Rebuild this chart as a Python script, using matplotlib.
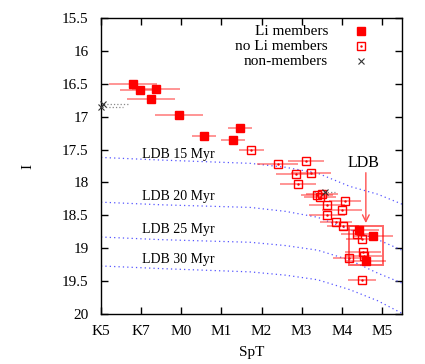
import matplotlib
matplotlib.use("Agg")
import matplotlib.pyplot as plt
from matplotlib.patches import Rectangle

plt.rcParams['font.family'] = ['Liberation Serif', 'DejaVu Serif']
plt.rcParams['font.size'] = 11

# spectral type index: K5=0, K7=1, M0=2, M1=3, M2=4, M3=5, M4=6, M5=7
tick_pos = [0, 1, 2, 3, 4, 5, 6, 7]
tick_labels = ['K5', 'K7', 'M0', 'M1', 'M2', 'M3', 'M4', 'M5']
ytick_vals = [15.5, 16, 16.5, 17, 17.5, 18, 18.5, 19, 19.5, 20]
ytick_labels = ['15.5', '16', '16.5', '17', '17.5', '18', '18.5', '19', '19.5', '20']

# Li members
li_spt = [0.79, 0.97, 1.37, 1.24, 1.95, 2.56, 3.47, 3.28, 6.42, 6.77, 6.61]
li_I = [16.50, 16.59, 16.58, 16.73, 16.98, 17.29, 17.18, 17.36, 18.72, 18.81, 19.20]
li_err = [0.6, 0.5, 0.6, 0.6, 0.6, 0.3, 0.3, 0.3, 0.5, 0.5, 0.5]

# no Li members
noli_spt = [3.75, 4.40, 5.11, 4.87, 5.24, 4.90, 5.38, 5.46, 5.50, 6.09, 5.64, 6.00,
            5.64, 5.86, 6.02, 6.37, 6.50, 6.52, 6.56, 6.17, 6.51]
noli_I = [17.51, 17.72, 17.68, 17.87, 17.86, 18.02, 18.19, 18.22, 18.17, 18.28, 18.34, 18.42,
          18.49, 18.60, 18.66, 18.79, 18.86, 19.06, 19.12, 19.15, 19.48]
noli_err = [0.3, 0.5, 0.45, 0.5, 0.5, 0.45, 0.4, 0.4, 0.4, 0.4, 0.45, 0.5,
            0.45, 0.4, 0.4, 0.4, 0.4, 0.45, 0.45, 0.4, 0.35]

# non-members
non_spt = [0.04, 0.0, 5.57]
non_I = [16.81, 16.86, 18.14]
non_err = [0.63, 0.55, 0.25]

# LDB isochrones
iso_spt = [0.0, 1.5, 3.72, 4.6, 5.4, 6.2, 6.9, 7.5]
iso15 = [17.62, 17.66, 17.71, 17.77, 17.86, 18.06, 18.18, 18.33]
iso20 = [18.30, 18.34, 18.38, 18.44, 18.53, 18.72, 18.87, 19.03]
iso25 = [18.83, 18.87, 18.91, 18.96, 19.03, 19.18, 19.38, 19.53]
iso30 = [19.27, 19.31, 19.36, 19.41, 19.48, 19.63, 19.80, 19.99]
iso_labels = ['LDB 15 Myr', 'LDB 20 Myr', 'LDB 25 Myr', 'LDB 30 Myr']
iso_label_y = [17.57, 18.22, 18.72, 19.17]

legend_labels = ['Li members', 'no Li members', 'non-members']

fig = plt.figure(figsize=(4.25, 3.64), dpi=100)
ax = fig.add_axes([0.2376, 0.1374, 0.7082, 0.8132])

for ys in (iso15, iso20, iso25, iso30):
    ax.plot(iso_spt, ys, color='#5555ff', lw=0.9, ls=(0, (1, 2.5)))
for lab, ly in zip(iso_labels, iso_label_y):
    ax.text(1.02, ly, lab, ha='left', va='center', fontsize=10)

ax.errorbar(li_spt, li_I, xerr=li_err, fmt='none', ecolor='#ff3030', elinewidth=1.2, alpha=0.6, capsize=0)
ax.errorbar(noli_spt, noli_I, xerr=noli_err, fmt='none', ecolor='#ff3030', elinewidth=1.2, alpha=0.6, capsize=0)
eb = ax.errorbar(non_spt, non_I, xerr=non_err, fmt='none', ecolor='#888888', elinewidth=0.9, capsize=0)
for c in eb[2]:
    c.set_linestyle(':')

ax.plot(li_spt, li_I, 's', color='red', ms=5.5, mec='red', ls='none', zorder=4)
ax.plot(noli_spt, noli_I, 's', mfc='none', mec='red', mew=1.0, ms=6, ls='none', zorder=4)
ax.plot(noli_spt, noli_I, '.', color='red', ms=1.5, ls='none', zorder=4)
ax.plot(non_spt, non_I, 'x', color='#333333', ms=4.5, mew=0.8, ls='none', zorder=5, clip_on=False)

ax.add_patch(Rectangle((6.19, 18.66), 0.84, 0.60, fill=False, ec='red', lw=1.4, alpha=0.6, zorder=5))
ax.annotate('', xy=(6.60, 18.66), xytext=(6.60, 17.81),
            arrowprops=dict(arrowstyle='->', color='#ff5050', lw=1.0, mutation_scale=12))
ax.text(6.53, 17.70, 'LDB', ha='center', va='center', fontsize=11.5)

# legend (gnuplot style: right-aligned text, marker on the right)
leg_y = [0.956, 0.905, 0.853]
tr = ax.transAxes
ax.text(0.754, leg_y[0], legend_labels[0], transform=tr, ha='right', va='center', fontsize=11)
ax.text(0.754, leg_y[1], legend_labels[1], transform=tr, ha='right', va='center', fontsize=11)
ax.text(0.754, leg_y[2], legend_labels[2], transform=tr, ha='right', va='center', fontsize=11)
ax.plot([0.864], [leg_y[0]], 's', color='red', ms=5.5, transform=tr)
ax.plot([0.864], [leg_y[1]], 's', mfc='none', mec='red', mew=1.0, ms=6, transform=tr)
ax.plot([0.864], [leg_y[1]], '.', color='red', ms=1.5, transform=tr)
ax.plot([0.864], [leg_y[2]], 'x', color='#333333', ms=4.5, mew=0.8, transform=tr)

ax.set_xlim(0, 7.5)
ax.set_ylim(20, 15.5)
ax.set_xticks(tick_pos)
ax.set_xticklabels(tick_labels)
ax.set_yticks(ytick_vals)
ax.set_yticklabels(ytick_labels)
ax.tick_params(direction='in', length=5, width=1, top=True, right=True, pad=8)
ax.tick_params(axis='y', pad=9)
ax.set_xlabel('SpT', labelpad=6)
ax.set_ylabel('I', labelpad=20)
for s in ax.spines.values():
    s.set_linewidth(1)

fig.savefig('out.png', dpi=100)
